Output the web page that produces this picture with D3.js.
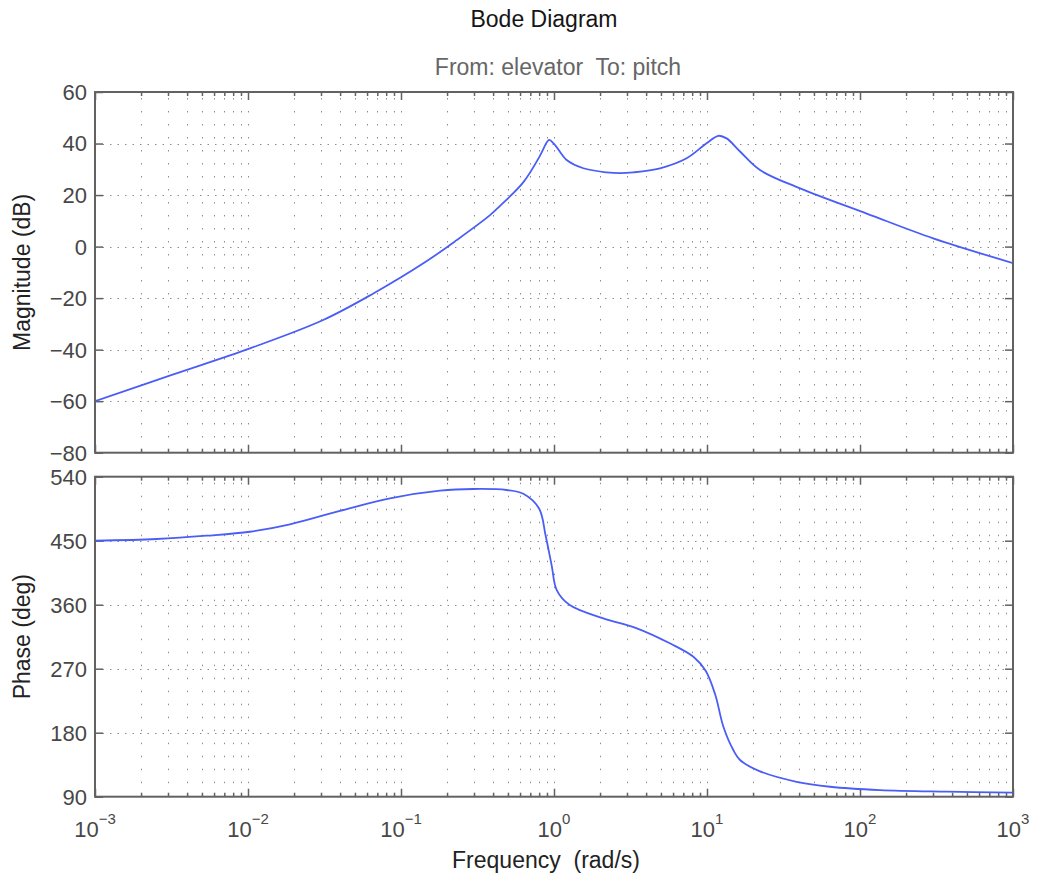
<!DOCTYPE html>
<html>
<head>
<meta charset="utf-8">
<script src="https://cdn.jsdelivr.net/npm/d3@7"></script>
<style>
  body { margin: 0; background: #fff; }
  text { font-family: "Liberation Sans", Arial, Helvetica, sans-serif; white-space: pre; }
</style>
</head>
<body>
<div id="bode"></div>
<script>
// 1. DATA
const magFreq = [0.001, 0.00325, 0.0103, 0.031, 0.066, 0.14, 0.231, 0.382, 0.444, 0.631, 0.809, 0.9, 0.931, 1.016, 1.21, 1.556, 2.21, 2.7, 3.3, 4.93, 7.36, 9.93, 11.86, 13.43, 16.44, 22.2, 40.6, 110.7, 301, 1000]
const magDb   = [-60, -49.6, -39.5, -28.5, -18.2, -6.5, 2.5, 12.2, 15.8, 25, 35.2, 40.6, 41.4, 39.4, 33.6, 30.4, 28.8, 28.5, 28.8, 30.4, 34.3, 40.1, 43, 42, 36.9, 29.7, 22.6, 12.8, 3.2, -6.4]

const phaseFreq = [0.001, 0.00253, 0.00537, 0.0103, 0.0188, 0.0399, 0.0847, 0.18, 0.297, 0.49, 0.63, 0.8, 0.88, 0.966, 1.042, 1.26, 2.1, 3.48, 5.8, 8.15, 9.8, 11.3, 12.8, 14.86, 16.44, 22, 38.5, 63.7, 135, 369, 1000]
const phaseDeg  = [450, 452.4, 457, 462.6, 473, 492, 509.6, 520.3, 522.7, 521.3, 516, 495, 458, 415, 380.6, 360, 340.8, 326.8, 305, 286.8, 267, 234, 188.4, 155.6, 141.6, 126, 111, 104, 99.3, 97, 95.6]

const decadeExponents = [-3, -2, -1, 0, 1, 2, 3]
const minorMultipliers = [2, 3, 4, 5, 6, 7, 8, 9]
const magTicks = [-80, -60, -40, -20, 0, 20, 40, 60]
const phaseTicks = [90, 180, 270, 360, 450, 540]

const titleText = "Bode Diagram"
const subtitleText = "From: elevator  To: pitch"
const magLabel = "Magnitude (dB)"
const phaseLabel = "Phase (deg)"
const xLabel = "Frequency  (rad/s)"

// 2. DIMENSIONS
const dimensions = {
    width: 1038,
    height: 879,
    left: 95,
    right: 1013,
    magTop: 92,
    magBottom: 452.7,
    phaseTop: 476.7,
    phaseBottom: 796.7
}

const frameColor = "#626262"
const gridColor = "#8c8c8c"
const lineColor = "#4a5ef7"
const labelColor = "#474747"

// 3. CANVAS
const svg = d3.select("#bode")
    .append("svg")
    .attr("width", dimensions.width)
    .attr("height", dimensions.height)

// 4. SCALES
const xScale = d3.scaleLog()
    .domain([1e-3, 1e3])
    .range([dimensions.left, dimensions.right])

const magScale = d3.scaleLinear()
    .domain([-80, 60])
    .range([dimensions.magBottom, dimensions.magTop])

const phaseScale = d3.scaleLinear()
    .domain([90, 540])
    .range([dimensions.phaseBottom, dimensions.phaseTop])

const majorFreqs = decadeExponents.map(e => Math.pow(10, e))
const minorFreqs = []
decadeExponents.slice(0, -1).forEach(e => {
    minorMultipliers.forEach(m => minorFreqs.push(m * Math.pow(10, e)))
})

// 5. PANELS
function drawPanel(id, yScale, yTicks, yFormat, xs, ys) {
    const top = yScale.range()[1]
    const bottom = yScale.range()[0]
    const h = bottom - top
    const w = dimensions.right - dimensions.left

    svg.append("clipPath").attr("id", "clip-" + id)
        .append("rect")
        .attr("x", dimensions.left).attr("y", top)
        .attr("width", w).attr("height", h)

    // grid
    const grid = svg.append("g")
        .attr("stroke", gridColor)
        .attr("stroke-width", 1)
    grid.selectAll("line.v")
        .data(majorFreqs.slice(1, -1).concat(minorFreqs))
        .join("line")
        .attr("class", "v")
        .attr("stroke-dasharray", "1.5,11.5")
        .attr("x1", d => Math.round(xScale(d)) + 0.5)
        .attr("x2", d => Math.round(xScale(d)) + 0.5)
        .attr("y1", top + 6)
        .attr("y2", bottom)
    grid.selectAll("line.h")
        .data(yTicks.slice(1, -1))
        .join("line")
        .attr("class", "h")
        .attr("stroke-dasharray", "1.5,6")
        .attr("x1", dimensions.left)
        .attr("x2", dimensions.right)
        .attr("y1", d => Math.round(yScale(d)) + 0.5)
        .attr("y2", d => Math.round(yScale(d)) + 0.5)

    // ticks (inward) via axes
    const axisStyle = g => {
        g.select(".domain").remove()
        g.selectAll("line").attr("stroke", frameColor).attr("stroke-width", 1.5)
        g.selectAll("text").remove()
    }
    svg.append("g").attr("transform", `translate(0,${bottom})`)
        .call(d3.axisBottom(xScale).tickValues(majorFreqs).tickSize(-8)).call(axisStyle)
    svg.append("g").attr("transform", `translate(0,${bottom})`)
        .call(d3.axisBottom(xScale).tickValues(minorFreqs).tickSize(-4)).call(axisStyle)
    svg.append("g").attr("transform", `translate(0,${top})`)
        .call(d3.axisTop(xScale).tickValues(majorFreqs).tickSize(-8)).call(axisStyle)
    svg.append("g").attr("transform", `translate(0,${top})`)
        .call(d3.axisTop(xScale).tickValues(minorFreqs).tickSize(-4)).call(axisStyle)
    svg.append("g").attr("transform", `translate(${dimensions.left},0)`)
        .call(d3.axisLeft(yScale).tickValues(yTicks).tickSize(-8)).call(axisStyle)
    svg.append("g").attr("transform", `translate(${dimensions.right},0)`)
        .call(d3.axisRight(yScale).tickValues(yTicks).tickSize(-8)).call(axisStyle)

    // y tick labels
    svg.append("g").selectAll("text")
        .data(yTicks)
        .join("text")
        .attr("x", dimensions.left - 8)
        .attr("y", d => yScale(d))
        .attr("dy", "0.36em")
        .attr("text-anchor", "end")
        .attr("fill", labelColor)
        .style("font-size", "22px")
        .text(yFormat)

    // data line
    const lineGenerator = d3.line()
        .x(d => xScale(d[0]))
        .y(d => yScale(d[1]))
        .curve(d3.curveCatmullRom.alpha(0.5))
    svg.append("path")
        .attr("clip-path", `url(#clip-${id})`)
        .attr("d", lineGenerator(xs.map((f, i) => [f, ys[i]])))
        .attr("fill", "none")
        .attr("stroke", lineColor)
        .attr("stroke-width", 1.8)

    // frame
    svg.append("rect")
        .attr("x", dimensions.left).attr("y", top)
        .attr("width", w).attr("height", h)
        .attr("fill", "none")
        .attr("stroke", frameColor)
        .attr("stroke-width", 2)
}

drawPanel("mag", magScale, magTicks, d => d < 0 ? "\u2212" + Math.abs(d) : d, magFreq, magDb)
drawPanel("phase", phaseScale, phaseTicks, d => d, phaseFreq, phaseDeg)

// 6. PERIPHERALS
const xLabels = svg.append("g").selectAll("text")
    .data(decadeExponents)
    .join("text")
    .attr("x", d => xScale(Math.pow(10, d)))
    .attr("y", 837)
    .attr("text-anchor", "middle")
    .attr("fill", labelColor)
    .style("font-size", "22px")
xLabels.append("tspan").text("10")
xLabels.append("tspan")
    .attr("dy", -13)
    .style("font-size", "15px")
    .text(d => d < 0 ? "\u2212" + Math.abs(d) : d)

svg.append("text")
    .attr("x", 544).attr("y", 27)
    .attr("text-anchor", "middle")
    .attr("fill", "#151515")
    .style("font-size", "23px")
    .text(titleText)

svg.append("text")
    .attr("x", 558).attr("y", 75)
    .attr("text-anchor", "middle")
    .attr("fill", "#666")
    .style("font-size", "23px")
    .text(subtitleText)

svg.append("text")
    .attr("x", 546).attr("y", 868)
    .attr("text-anchor", "middle")
    .attr("fill", "#222")
    .style("font-size", "23px")
    .text(xLabel)

svg.append("text")
    .attr("transform", `translate(30,${(dimensions.magTop + dimensions.magBottom) / 2}) rotate(-90)`)
    .attr("text-anchor", "middle")
    .attr("fill", "#222")
    .style("font-size", "23px")
    .text(magLabel)

svg.append("text")
    .attr("transform", `translate(30,${(dimensions.phaseTop + dimensions.phaseBottom) / 2}) rotate(-90)`)
    .attr("text-anchor", "middle")
    .attr("fill", "#222")
    .style("font-size", "23px")
    .text(phaseLabel)
</script>
</body>
</html>
